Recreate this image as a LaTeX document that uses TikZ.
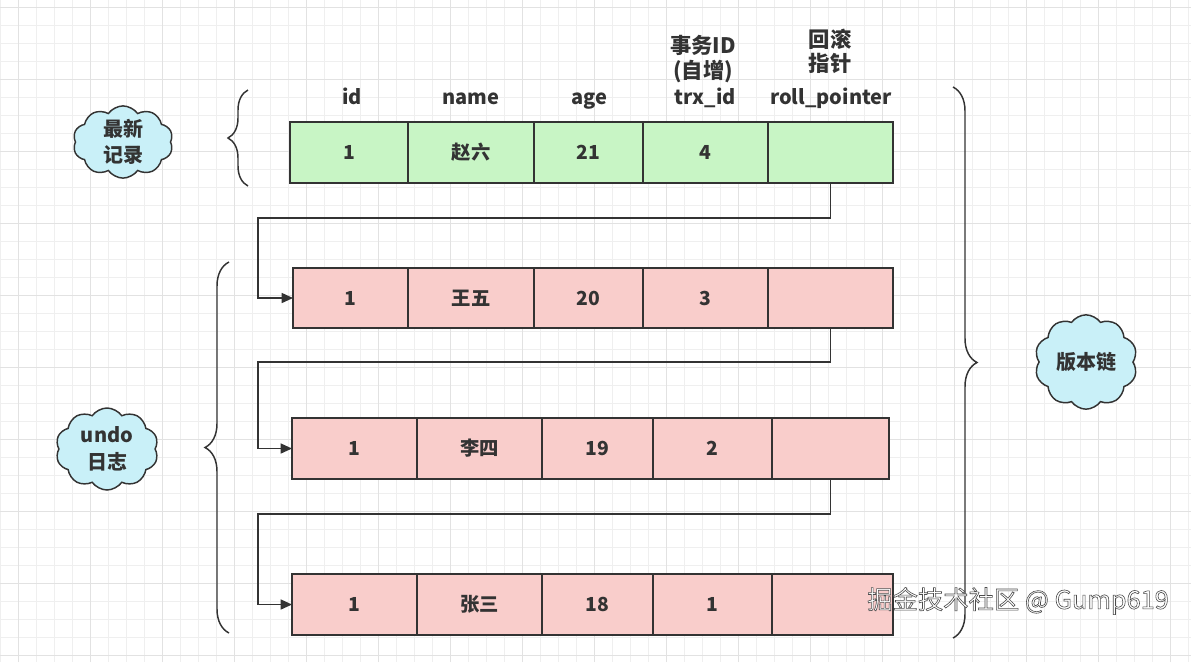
\documentclass[tikz,border=0pt]{standalone}
\usepackage{fontspec}
\setmainfont{Noto Sans CJK SC}
\usetikzlibrary{shapes.symbols,arrows.meta,decorations.pathreplacing}
\definecolor{ink}{HTML}{333333}
\definecolor{rowg}{HTML}{C8F5C5}
\definecolor{rowp}{HTML}{F9CDCB}
\definecolor{cloudc}{HTML}{C9F0F8}
\definecolor{gridminor}{HTML}{EFEFEF}
\definecolor{gridmajor}{HTML}{E2E2E2}
\tikzset{
  cell/.style={draw=ink, line width=1.1pt, inner sep=0pt, outer sep=0pt, text=ink, font=\bfseries\fontsize{14.5}{16}\selectfont},
  hdr/.style={text=ink, inner sep=0pt, anchor=base, font=\bfseries\fontsize{15}{17}\selectfont},
  hdrcn/.style={text=ink, inner sep=0pt, anchor=base, font=\bfseries\fontsize{16}{18}\selectfont},
  cloudnode/.style={cloud, cloud puffs=10, cloud puff arc=110, draw=ink, line width=1.1pt, fill=cloudc, text=ink, align=center, inner sep=0pt, font=\bfseries\fontsize{15}{20}\selectfont},
  conn/.style={draw=ink, line width=1.1pt, -{Triangle[length=8.5pt,width=7.5pt]}},
  bracestyle/.style={draw=ink, line width=1.1pt, decorate, decoration={brace, amplitude=#1}},
}
\newcommand\cellat[7]{\node[cell,fill=#2,minimum width={(#5-#3)*0.75pt},minimum height={(#6-#4)*0.75pt}] (#1) at ({(#3+#5)/2},{(#4+#6)/2}) {#7};}
\begin{document}
\begin{tikzpicture}[x=0.75pt,y=-0.75pt]
\useasboundingbox (0,0) rectangle (1191,662);
\fill[white] (0,0) rectangle (1191,662);
% grid
\begin{scope}[shift={(18,7)}]
  \draw[gridminor, line width=0.5pt, step=13.5pt] (-18,-7) grid (1173,655);
  \draw[gridmajor, line width=0.6pt, step=54pt] (-18,-7) grid (1173,655);
\end{scope}

% headers
\node[hdr] (hid) at (352,104) {id};
\node[hdr] (hname) at (471,104) {name};
\node[hdr] (hage) at (589,104) {age};
\node[hdr] (htrx) at (705,104) {trx\_id};
\node[hdr] (hroll) at (831,104) {roll\_pointer};
\node[hdrcn] (htrxcn) at (703,53) {事务ID};
\node[hdrcn] (htrxcn2) at (703,78) {(自增)};
\node[hdrcn] (hrollcn) at (830,47) {回滚};
\node[hdrcn] (hrollcn2) at (830,71) {指针};

% row 1
\cellat{r1c1}{rowg}{290}{122}{408}{183}{1}
\cellat{r1c2}{rowg}{408}{122}{534}{183}{赵六}
\cellat{r1c3}{rowg}{534}{122}{643}{183}{21}
\cellat{r1c4}{rowg}{643}{122}{768}{183}{4}
\cellat{r1c5}{rowg}{768}{122}{893}{183}{}
% row 2
\cellat{r2c1}{rowp}{293}{268}{408}{328}{1}
\cellat{r2c2}{rowp}{408}{268}{534}{328}{王五}
\cellat{r2c3}{rowp}{534}{268}{643}{328}{20}
\cellat{r2c4}{rowp}{643}{268}{768}{328}{3}
\cellat{r2c5}{rowp}{768}{268}{893}{328}{}
% row 3
\cellat{r3c1}{rowp}{292}{418}{417}{479}{1}
\cellat{r3c2}{rowp}{417}{418}{542}{479}{李四}
\cellat{r3c3}{rowp}{542}{418}{653}{479}{19}
\cellat{r3c4}{rowp}{653}{418}{772}{479}{2}
\cellat{r3c5}{rowp}{772}{418}{889}{479}{}
% row 4
\cellat{r4c1}{rowp}{292}{574}{417}{635}{1}
\cellat{r4c2}{rowp}{417}{574}{542}{635}{张三}
\cellat{r4c3}{rowp}{542}{574}{653}{635}{18}
\cellat{r4c4}{rowp}{653}{574}{772}{635}{1}
\cellat{r4c5}{rowp}{772}{574}{893}{635}{}

% connectors
\coordinate (b1) at (258,218);
\coordinate (b2) at (258,362);
\coordinate (b3) at (258,514);
\draw[conn] (r1c5.south) |- (b1) |- (r2c1.west);
\draw[conn] (r2c5.south) |- (b2) |- (r3c1.west);
\draw[conn] (r3c5.south) |- (b3) |- (r4c1.west);

% braces
\draw[bracestyle=15pt] (248,186) -- (248,90);
\draw[bracestyle=18pt] (229,633) -- (229,262);
\draw[bracestyle=18pt] (953,87) -- (953,638);

% clouds
\node[cloudnode, minimum width=75pt, minimum height=54pt] (cnew) at (123,142) {最新\\记录};
\node[cloudnode, minimum width=77pt, minimum height=61pt] (cundo) at (107,449) {undo\\日志};
\node[cloudnode, minimum width=77pt, minimum height=60pt] (cchain) at (1086,362) {版本链};

% watermark
\node[anchor=west, inner sep=0pt, font=\fontsize{19}{21}\selectfont, text=white] (wm) at (867,601) {\special{pdf:literal 2 Tr 0.45 w 0.3 G}掘金技术社区 @ Gump619\special{pdf:literal 0 Tr}};
\end{tikzpicture}
\end{document}
